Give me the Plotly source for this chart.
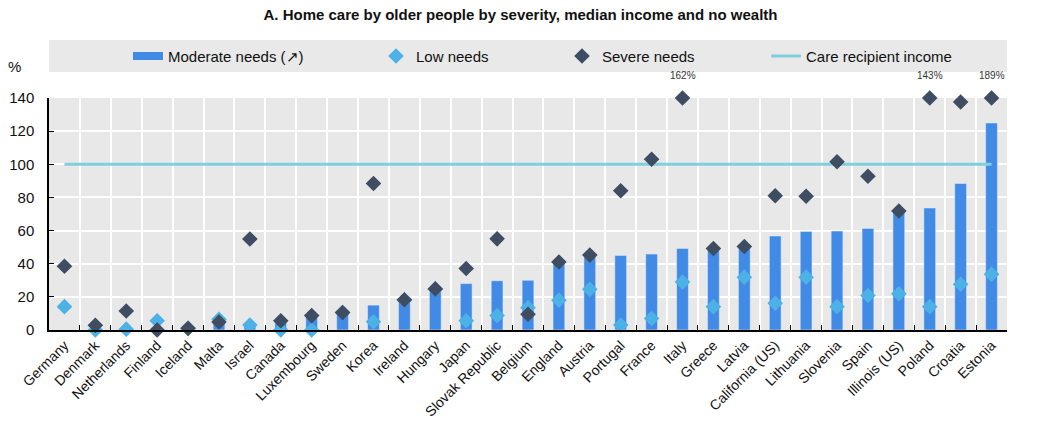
import plotly.graph_objects as go

categories = ["Germany", "Denmark", "Netherlands", "Finland", "Iceland", "Malta", "Israel",
              "Canada", "Luxembourg", "Sweden", "Korea", "Ireland", "Hungary", "Japan",
              "Slovak Republic", "Belgium", "England", "Austria", "Portugal", "France", "Italy",
              "Greece", "Latvia", "California (US)", "Lithuania", "Slovenia", "Spain",
              "Illinois (US)", "Poland", "Croatia", "Estonia"]
moderate = [0, 0, 0, 0, 0, 4.5, 3, 4.5, 8, 10, 15, 17, 24, 28, 29.7, 30, 40, 44, 45, 45.8, 49.2,
            48, 49.5, 56.7, 59.5, 59.7, 61.3, 71, 73.6, 88.4, 124.9]
low = [14.1, 0, 0.5, 5.6, 1, 6.5, 3, 0, 0, 10.5, 5, 18, 24.8, 5.6, 8.7, 13.5, 18, 24.6, 3, 6.9,
       28.9, 14.1, 31.9, 16.1, 31.9, 14.1, 20.8, 21.8, 14.1, 27.6, 33.7]
severe = [38.5, 2.8, 11.5, 0, 1, 4.8, 54.9, 5.6, 8.7, 10.5, 88.4, 18.2, 24.8, 37.1, 55, 9.5, 41,
          45.2, 84, 103, 162, 49.2, 50.4, 81, 80.7, 101.5, 92.8, 71.8, 143, 137.6, 189]
income = [100] * len(categories)
y_ticks = [0, 20, 40, 60, 80, 100, 120, 140]
y_cap = 140

FONT = "Liberation Sans, Arial"
C_BAR = "#418ae6"
C_LOW = "#4cb1e6"
C_SEV = "#3e4d61"
C_LINE = "#7fcfdf"

severe_plot = [min(v, y_cap) for v in severe]

fig = go.Figure()
fig.add_trace(go.Bar(x=categories, y=moderate, marker_color=C_BAR, width=0.38,
                     name="Moderate needs (↗)", showlegend=False))
fig.add_trace(go.Scatter(x=categories, y=income, mode="lines", line=dict(color=C_LINE, width=3),
                         name="Care recipient income", legend="legend4", cliponaxis=False))
fig.add_trace(go.Scatter(x=categories, y=low, mode="markers",
                         marker=dict(symbol="diamond", size=12, color=C_LOW),
                         name="Low needs", legend="legend2", cliponaxis=False))
fig.add_trace(go.Scatter(x=categories, y=severe_plot, mode="markers",
                         marker=dict(symbol="diamond", size=12, color=C_SEV),
                         name="Severe needs", legend="legend3", cliponaxis=False))
# legend entry for bars (drawn as thick line segment like reference)
fig.add_trace(go.Scatter(x=[None], y=[None], mode="lines", line=dict(color=C_BAR, width=8),
                         name="Moderate needs (↗)", legend="legend"))

for c, v in zip(categories, severe):
    if v > y_cap:
        fig.add_annotation(x=c, y=y_cap, text=f"{v:.0f}%", showarrow=False, yanchor="bottom",
                           yshift=15, font=dict(size=10, color="#333333", family=FONT))

W = 958.0
def px(p):
    return (p - 49) / W

leg_common = dict(orientation="h", bgcolor="rgba(0,0,0,0)", font=dict(size=15, color="#111", family=FONT),
                  yanchor="middle", y=1.18, xanchor="left")
fig.update_layout(
    legend=dict(x=px(128), **leg_common),
    legend2=dict(x=px(376), **leg_common),
    legend3=dict(x=px(562), **leg_common),
    legend4=dict(x=px(766), **leg_common),
)

fig.add_shape(type="rect", xref="paper", yref="paper", x0=0, x1=1, y0=1.112, y1=1.25,
              fillcolor="#e9e9e9", line=dict(width=0), layer="below")

fig.add_annotation(xref="paper", yref="paper", x=-0.036, y=1.18, text="%", showarrow=False,
                   xanchor="center", yanchor="top", font=dict(size=15, color="#111", family=FONT))

fig.update_layout(
    width=1041, height=422,
    margin=dict(l=49, r=34, t=98, b=92),
    paper_bgcolor="white", plot_bgcolor="#e8e8e8",
    title=dict(text="<b>A. Home care by older people by severity, median income and no wealth</b>",
               x=0.5, xanchor="center", y=0.965, yanchor="middle",
               font=dict(size=15, color="#111", family=FONT)),
    font=dict(family=FONT, size=15, color="#111"),
    bargap=0.6,
)
fig.update_xaxes(type="category", tickangle=-45, tickson="boundaries", showgrid=True, automargin=False,
                 gridcolor="white", gridwidth=2, showline=True, linecolor="black", linewidth=1.5,
                 ticks="inside", ticklen=5, tickcolor="black", tickfont=dict(size=14, family=FONT),
                 range=[-0.5, len(categories) - 0.5])
fig.update_yaxes(range=[0, 140], tickvals=y_ticks, showgrid=True, gridcolor="white", gridwidth=2,
                 showline=True, linecolor="black", linewidth=1.5, ticks="inside", ticklen=5, automargin=False,
                 ticklabelstandoff=10,
                 tickcolor="black", tickfont=dict(size=15, family=FONT), zeroline=False)

fig.write_html("out.html")
